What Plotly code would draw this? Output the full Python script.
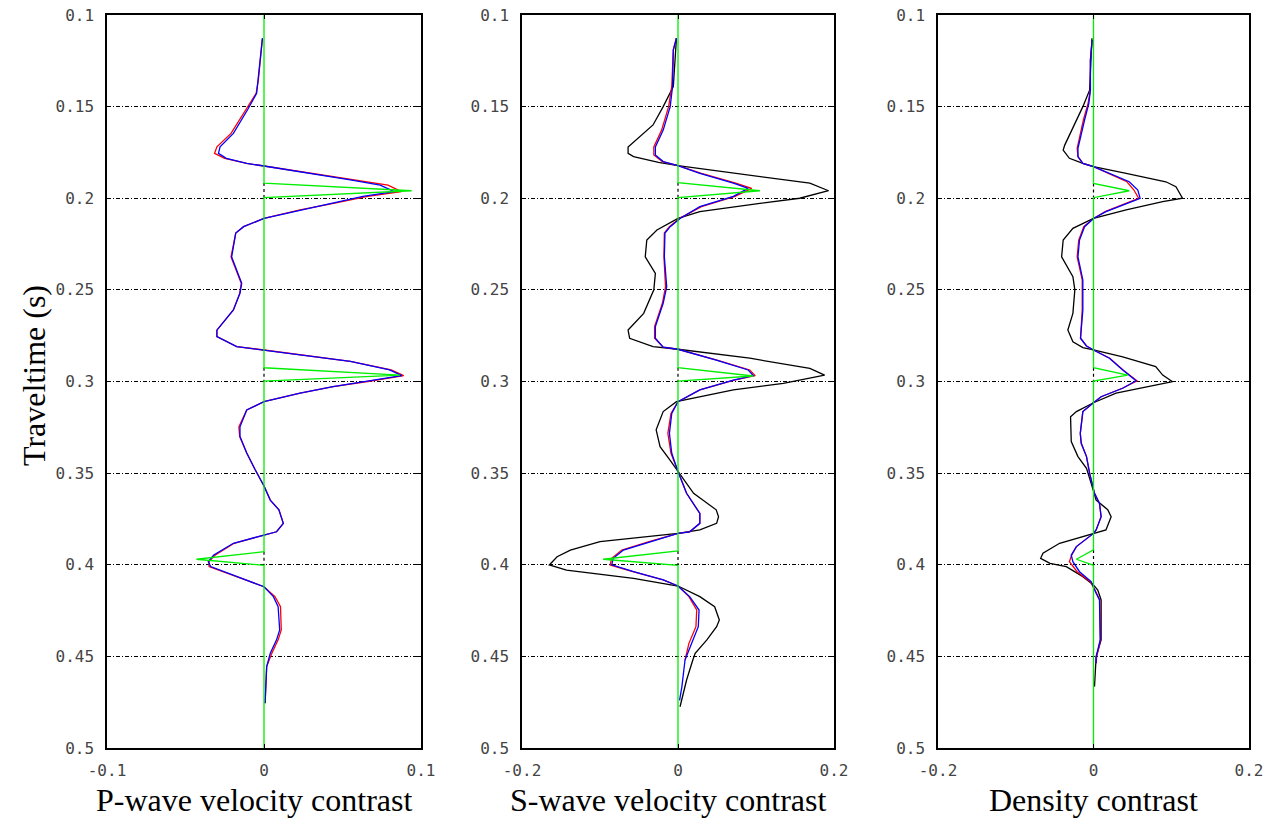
import plotly.graph_objects as go

# ---------------- data ----------------
# P-wave velocity contrast
p_t = [0.1127, 0.1355, 0.1427, 0.151, 0.1646, 0.1719, 0.1755, 0.1782, 0.181, 0.1824,
       0.1855, 0.190, 0.1928, 0.1964, 0.199, 0.2027, 0.2064, 0.211, 0.2155, 0.219,
       0.232, 0.2464, 0.2519, 0.261, 0.272, 0.2755, 0.281, 0.2828, 0.2855, 0.289,
       0.2937, 0.2968, 0.300, 0.3028, 0.3064, 0.311, 0.3155, 0.3247, 0.330, 0.339,
       0.348, 0.357, 0.3647, 0.370, 0.3774, 0.382, 0.3838, 0.3883, 0.3947, 0.3983,
       0.401, 0.4083, 0.412, 0.4174, 0.4229, 0.4356, 0.441, 0.4483, 0.4556, 0.4756]
p_blue = [-0.001, -0.0036, -0.0047, -0.010, -0.0195, -0.028, -0.029, -0.024, -0.011, 0.0,
          0.023, 0.055, 0.074, 0.083, 0.063, 0.044, 0.023, 0.0, -0.013, -0.018,
          -0.0206, -0.0142, -0.0153, -0.0195, -0.030, -0.030, -0.0174, 0.0, 0.023, 0.055,
          0.080, 0.0877, 0.065, 0.044, 0.023, 0.0, -0.011, -0.0153, -0.0153, -0.011,
          -0.0057, 0.0, 0.004, 0.0095, 0.0123, 0.008, 0.0, -0.0195, -0.032, -0.0355,
          -0.034, -0.011, 0.0, 0.006, 0.009, 0.010, 0.008, 0.004, 0.0017, 0.0007]
p_red = [-0.001, -0.0036, -0.005, -0.011, -0.021, -0.030, -0.0315, -0.025, -0.011, 0.0,
         0.024, 0.056, 0.079, 0.0875, 0.066, 0.045, 0.023, 0.0, -0.013, -0.018,
         -0.021, -0.0145, -0.0155, -0.0195, -0.030, -0.030, -0.0174, 0.0, 0.023, 0.055,
         0.081, 0.089, 0.066, 0.044, 0.023, 0.0, -0.011, -0.016, -0.0155, -0.011,
         -0.0057, 0.0, 0.004, 0.0095, 0.0123, 0.008, 0.0, -0.019, -0.031, -0.035,
         -0.035, -0.012, 0.0, 0.007, 0.0105, 0.011, 0.009, 0.005, 0.0017, 0.0007]
p_spike_t = [0.1917, 0.1959, 0.1995]
p_spike_t2 = [0.2925, 0.2965, 0.2998]
p_spike_t3 = [0.3929, 0.397, 0.4001]
p_spike_amp = [0.094, 0.0866, -0.043]

# S-wave velocity contrast
s_t = [0.1127, 0.119, 0.139, 0.150, 0.1628, 0.172, 0.1764, 0.180, 0.1822, 0.1864,
       0.1918, 0.1946, 0.199, 0.2046, 0.211, 0.2155, 0.219, 0.232, 0.2483, 0.2573,
       0.270, 0.2764, 0.2813, 0.2824, 0.2883, 0.2937, 0.2968, 0.2992, 0.3046, 0.311,
       0.3174, 0.3283, 0.3392, 0.3492, 0.361, 0.372, 0.3774, 0.382, 0.3829, 0.3874,
       0.392, 0.3965, 0.4001, 0.4038, 0.4083, 0.4116, 0.4174, 0.4247, 0.4338, 0.4429,
       0.452, 0.4665, 0.474]
s_blue = [-0.002, -0.006, -0.007, -0.010, -0.019, -0.029, -0.029, -0.019, 0.0, 0.028,
          0.071, 0.090, 0.071, 0.028, 0.0026, -0.010, -0.0167, -0.0175, -0.0145, -0.019,
          -0.029, -0.029, -0.019, 0.0, 0.049, 0.090, 0.0965, 0.071, 0.028, 0.0,
          -0.008, -0.011, -0.008, 0.0, 0.011, 0.028, 0.028, 0.015, 0.0, -0.036,
          -0.070, -0.083, -0.085, -0.057, -0.019, 0.0, 0.015, 0.027, 0.026, 0.0175,
          0.009, 0.005, 0.002]
s_red = [-0.002, -0.006, -0.008, -0.012, -0.021, -0.031, -0.031, -0.020, 0.0, 0.030,
         0.074, 0.0945, 0.073, 0.030, 0.002, -0.011, -0.0175, -0.018, -0.016, -0.020,
         -0.030, -0.030, -0.019, 0.0, 0.050, 0.092, 0.099, 0.072, 0.028, 0.0,
         -0.009, -0.013, -0.009, 0.0, 0.011, 0.028, 0.028, 0.015, 0.0, -0.037,
         -0.072, -0.085, -0.087, -0.058, -0.019, 0.0, 0.014, 0.024, 0.023, 0.014,
         0.009, None, None]
s_black_t = [0.1127, 0.139, 0.150, 0.160, 0.172, 0.1755, 0.1773, 0.1804, 0.1822, 0.1864,
             0.1918, 0.1959, 0.200, 0.2028, 0.2073, 0.211, 0.2173, 0.2228, 0.232, 0.241,
             0.250, 0.2628, 0.2719, 0.2764, 0.281, 0.2824, 0.2873, 0.2928, 0.2965, 0.301,
             0.3046, 0.311, 0.3164, 0.3264, 0.3356, 0.343, 0.349, 0.361, 0.370, 0.3738,
             0.3774, 0.381, 0.3829, 0.3874, 0.392, 0.3956, 0.4001, 0.4029, 0.4074, 0.4116,
             0.4174, 0.4229, 0.4302, 0.4338, 0.441, 0.4483, 0.452, 0.4629, 0.4775]
s_black = [-0.002, -0.006, -0.019, -0.032, -0.064, -0.064, -0.057, -0.025, 0.0, 0.071,
           0.169, 0.193, 0.156, 0.105, 0.028, 0.0, -0.027, -0.040, -0.042, -0.029,
           -0.031, -0.044, -0.064, -0.062, -0.032, 0.0, 0.092, 0.169, 0.188, 0.135,
           0.071, -0.002, -0.019, -0.028, -0.023, -0.010, 0.0, 0.020, 0.049, 0.052,
           0.0495, 0.028, 0.0, -0.100, -0.138, -0.155, -0.165, -0.143, -0.057, 0.0,
           0.028, 0.047, 0.053, 0.0495, 0.037, 0.022, 0.019, 0.011, 0.0026]
s_spike_t = [0.1915, 0.1959, 0.1995]
s_spike_t2 = [0.2925, 0.297, 0.2998]
s_spike_t3 = [0.3925, 0.397, 0.4001]
s_spike_amp = [0.105, 0.0965, -0.096]

# Density contrast
d_t = [0.1136, 0.1246, 0.141, 0.1482, 0.1573, 0.1682, 0.1728, 0.1773, 0.181, 0.1828,
       0.1864, 0.191, 0.1955, 0.200, 0.2037, 0.2073, 0.211, 0.2155, 0.2228, 0.232,
       0.2446, 0.261, 0.2764, 0.2806, 0.2828, 0.2873, 0.2937, 0.2996, 0.3037, 0.3083,
       0.3116, 0.3164, 0.3283, 0.3337, 0.341, 0.350, 0.361, 0.3665, 0.3738, 0.381,
       0.3829, 0.3901, 0.3947, 0.3983, 0.4038, 0.4092, 0.4156, 0.4192, 0.441, 0.4502,
       0.4538]
d_blue = [-0.0017, -0.004, -0.004, -0.006, -0.0115, -0.018, -0.020, -0.020, -0.0137, 0.0,
          0.0205, 0.046, 0.057, 0.060, 0.0376, 0.016, 0.0, -0.0115, -0.018, -0.020,
          -0.0137, -0.0137, -0.0167, -0.009, 0.0, 0.0205, 0.0376, 0.0547, 0.0376, 0.0098,
          0.0, -0.0137, -0.017, -0.0158, -0.009, -0.005, 0.0013, 0.0077, 0.0098, 0.0034,
          0.0, -0.022, -0.0286, -0.0265, -0.018, -0.003, 0.0034, 0.0077, 0.0086, 0.0034,
          0.0034]
d_red = [-0.0017, -0.004, -0.004, -0.007, -0.013, -0.019, -0.021, -0.020, -0.0137, 0.0,
         0.019, 0.043, 0.052, 0.058, 0.036, 0.015, 0.0, -0.0125, -0.019, -0.021,
         -0.0145, -0.0145, -0.0167, -0.009, 0.0, 0.021, 0.038, 0.056, 0.037, 0.0098,
         0.0, -0.0137, -0.017, -0.0158, -0.009, -0.005, 0.0013, 0.0077, 0.0098, 0.0034,
         0.0, -0.022, -0.028, -0.031, -0.021, -0.004, 0.004, 0.008, 0.009, 0.004,
         0.0034]
d_black_t = [0.1127, 0.141, 0.150, 0.159, 0.171, 0.1737, 0.1782, 0.181, 0.1828, 0.1864,
             0.191, 0.1937, 0.200, 0.2019, 0.2064, 0.211, 0.2164, 0.2228, 0.232, 0.2428,
             0.250, 0.2628, 0.2719, 0.2783, 0.2815, 0.2828, 0.2865, 0.2919, 0.2965, 0.3001,
             0.3028, 0.3064, 0.3116, 0.3164, 0.3192, 0.3328, 0.341, 0.3474, 0.3555, 0.3647,
             0.370, 0.3738, 0.381, 0.3829, 0.3883, 0.3937, 0.3965, 0.3992, 0.401, 0.4065,
             0.411, 0.4138, 0.4192, 0.441, 0.4502, 0.4665]
d_black = [-0.002, -0.005, -0.0137, -0.024, -0.037, -0.039, -0.031, -0.0137, 0.0, 0.042,
           0.093, 0.106, 0.1145, 0.089, 0.042, 0.0, -0.0265, -0.039, -0.041, -0.0265,
           -0.024, -0.0265, -0.033, -0.0265, -0.0137, 0.0, 0.0376, 0.080, 0.089, 0.1017,
           0.072, 0.029, 0.0, -0.022, -0.0295, -0.0286, -0.020, -0.009, -0.003, 0.0034,
           0.0183, 0.0227, 0.016, 0.0, -0.0436, -0.065, -0.068, -0.056, -0.035, -0.0137,
           0.0, 0.0055, 0.0098, 0.0098, 0.0034, 0.0013]
d_spike_t = [0.1919, 0.1959, 0.1995]
d_spike_t2 = [0.2925, 0.2965, 0.2998]
d_spike_t3 = [0.3919, 0.397, 0.4001]
d_spike_amp = [0.046, 0.044, -0.022]

y_ticks = [0.1, 0.15, 0.2, 0.25, 0.3, 0.35, 0.4, 0.45, 0.5]
y_ticktext = ["0.1", "0.15", "0.2", "0.25", "0.3", "0.35", "0.4", "0.45", "0.5"]
x_limits = [0.1, 0.2, 0.2]
x_titles = ["P-wave velocity contrast", "S-wave velocity contrast", "Density contrast"]
y_title = "Traveltime (s)"

# ---------------- figure ----------------
W, H = 1267, 818
panel_px = [(107, 421), (522, 834), (938, 1249)]
title_cx = [254, 668, 1093]
top_px, bottom_px = 15, 748

fig = go.Figure()


def spike_series(s1, s2, s3, amps):
    """Vertical zero trace with three one-sided spikes."""
    ts = [0.1]
    xs = [0.0]
    for seg, a in zip((s1, s2, s3), amps):
        ts += [seg[0], seg[1], seg[2], seg[2] + 0.0002]
        xs += [0.0, a, 0.0, 0.0]
    ts.append(0.5)
    xs.append(0.0)
    return xs, ts


panels = [
    dict(t=p_t, blue=p_blue, red=p_red, bt=None, black=None,
         spikes=(p_spike_t, p_spike_t2, p_spike_t3), amps=p_spike_amp),
    dict(t=s_t, blue=s_blue, red=s_red, bt=s_black_t, black=s_black,
         spikes=(s_spike_t, s_spike_t2, s_spike_t3), amps=s_spike_amp),
    dict(t=d_t, blue=d_blue, red=d_red, bt=d_black_t, black=d_black,
         spikes=(d_spike_t, d_spike_t2, d_spike_t3), amps=d_spike_amp),
]

lw = 1.3
for i, p in enumerate(panels):
    xa = "x" if i == 0 else f"x{i+1}"
    ya = "y" if i == 0 else f"y{i+1}"
    # black dotted marks on the zero line at the spike intervals
    for seg in p["spikes"]:
        fig.add_trace(go.Scatter(x=[0, 0], y=[seg[0], seg[2]], mode="lines",
                                 line=dict(color="black", width=1.2, dash="dot"),
                                 xaxis=xa, yaxis=ya, showlegend=False, hoverinfo="skip"))
    if p["black"] is not None:
        fig.add_trace(go.Scatter(x=p["black"], y=p["bt"], mode="lines",
                                 line=dict(color="black", width=lw),
                                 xaxis=xa, yaxis=ya, showlegend=False))
    fig.add_trace(go.Scatter(x=p["red"], y=p["t"], mode="lines",
                             line=dict(color="#ff0000", width=lw),
                             xaxis=xa, yaxis=ya, showlegend=False, connectgaps=False))
    fig.add_trace(go.Scatter(x=p["blue"], y=p["t"], mode="lines",
                             line=dict(color="#0000ff", width=lw),
                             xaxis=xa, yaxis=ya, showlegend=False))
    gx, gt = spike_series(*p["spikes"], p["amps"])
    fig.add_trace(go.Scatter(x=gx, y=gt, mode="lines",
                             line=dict(color="#00ee00", width=lw),
                             xaxis=xa, yaxis=ya, showlegend=False))

tick_font = dict(family="DejaVu Sans Mono", size=16, color="#444444")
y_dom = [1 - bottom_px / H, 1 - top_px / H]
layout = dict(
    width=W, height=H,
    margin=dict(l=0, r=0, t=0, b=0, pad=0, autoexpand=False),
    paper_bgcolor="white", plot_bgcolor="white",
    showlegend=False,
)
for i, (l, r) in enumerate(panel_px):
    lim = x_limits[i]
    xk = "xaxis" if i == 0 else f"xaxis{i+1}"
    yk = "yaxis" if i == 0 else f"yaxis{i+1}"
    ya = "y" if i == 0 else f"y{i+1}"
    xa = "x" if i == 0 else f"x{i+1}"
    layout[xk] = dict(
        domain=[l / W, r / W], anchor=ya, range=[-lim, lim], automargin=False,
        tickvals=[-lim, 0, lim], ticktext=[f"{-lim:g}", "0", f"{lim:g}"],
        ticks="inside", ticklen=4, tickwidth=1, tickcolor="black",
        showline=True, linecolor="black", linewidth=1.5, mirror="allticks",
        showgrid=False, zeroline=False, tickfont=tick_font, ticklabelstandoff=7,
    )
    layout[yk] = dict(
        domain=y_dom, anchor=xa, range=[0.5, 0.1], automargin=False,
        tickvals=y_ticks, ticktext=y_ticktext,
        ticks="inside", ticklen=4, tickwidth=1, tickcolor="black",
        showline=True, linecolor="black", linewidth=1.5, mirror="allticks",
        showgrid=True, gridcolor="black", gridwidth=1, griddash="4px,2px,1px,2px",
        zeroline=False, tickfont=tick_font, ticklabelstandoff=8,
    )
fig.update_layout(**layout)

title_font = dict(family="Liberation Serif", size=32, color="black")
annotations = []
for i, cx in enumerate(title_cx):
    annotations.append(dict(text=x_titles[i], x=cx / W, y=1 - 800 / H,
                            xref="paper", yref="paper", showarrow=False,
                            xanchor="center", yanchor="middle", font=title_font))
annotations.append(dict(text=y_title, x=34 / W, y=1 - 376 / H, xref="paper", yref="paper",
                        showarrow=False, textangle=-90, xanchor="center", yanchor="middle",
                        font=title_font))
fig.update_layout(annotations=annotations)

fig.write_html("out.html", post_script="document.body.style.margin='0';")
